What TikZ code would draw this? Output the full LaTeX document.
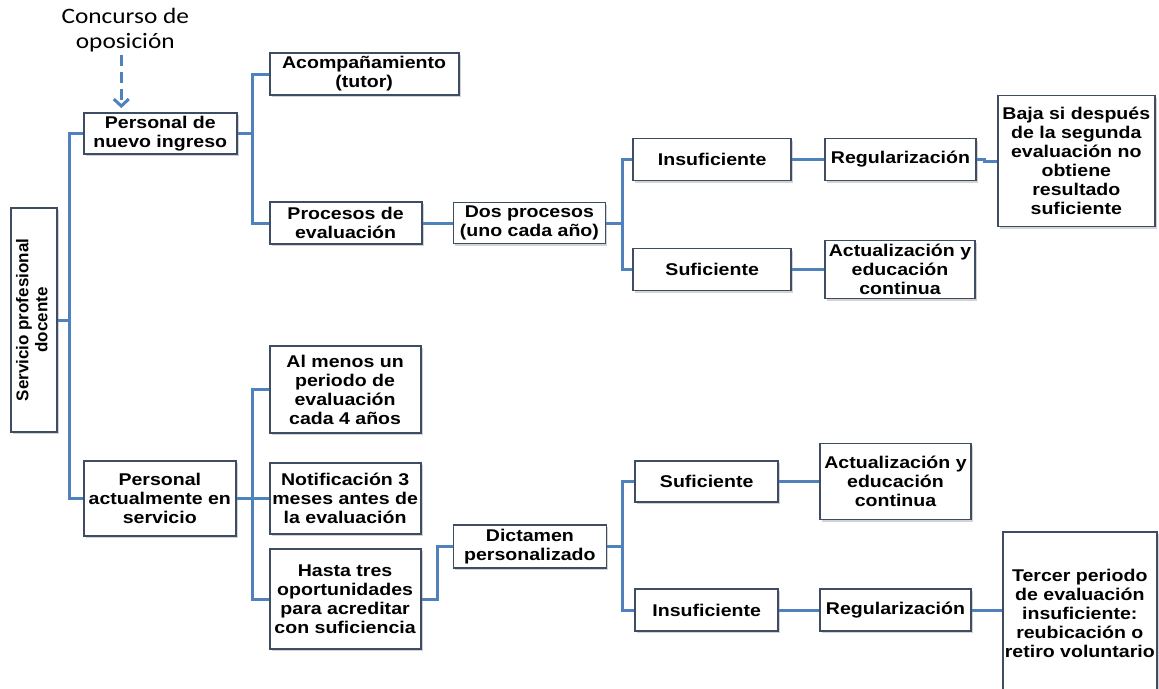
\documentclass[tikz,border=0pt]{standalone}
\usepackage{graphicx}
\usepackage{fontspec}
\setmainfont{Liberation Sans}
\newfontfamily\boxfont{Liberation Sans}[FakeStretch=1.15]
\newfontfamily\notefont{Carlito}[FakeStretch=1.15]
\usepackage{tikz}
\usetikzlibrary{arrows.meta, positioning, shadows}
\definecolor{linkblue}{HTML}{4F81BD}
\definecolor{boxline}{HTML}{3E4D63}

\begin{document}
\begin{tikzpicture}[x=1pt, y=1pt,
  box/.style={rectangle, draw=boxline, line width=1.8pt, fill=white,
              drop shadow={shadow xshift=2pt, shadow yshift=-2pt, opacity=0.35},
              align=center, inner sep=1pt,
              font=\boxfont\bfseries\fontsize{17}{19}\selectfont},
  rootbox/.style={box, font=\bfseries\fontsize{17}{19}\selectfont},
  note/.style={align=center, inner sep=0pt, font=\notefont\fontsize{22}{25}\selectfont},
  link/.style={draw=linkblue, line width=3pt},
  dasharrow/.style={-{Straight Barb[length=7pt, width=15pt]}, draw=linkblue,
                    line width=3pt, dash pattern=on 11pt off 6pt},
]
  \useasboundingbox (0,0) rectangle (1159,-688);

  % root
  \node[rootbox, minimum width=46pt, minimum height=224pt] (root) at (34,-320)
    {\rotatebox{90}{\begin{tabular}{@{}c@{}}Servicio profesional\\docente\end{tabular}}};

  % upper branch: new staff
  \node[box, minimum width=153pt, minimum height=41pt, right=25pt of root, yshift=186.5pt] (nuevo) {Personal de\\nuevo ingreso};
  \node[note, above=60pt of nuevo.north, xshift=-35pt] (concurso) {Concurso de\\oposición};
  \node[box, minimum width=189pt, minimum height=42pt, right=31pt of nuevo, yshift=59.5pt] (tutor) {Acompañamiento\\(tutor)};
  \node[box, minimum width=152pt, minimum height=42pt, right=31pt of nuevo, yshift=-89.5pt] (proc) {Procesos de\\evaluación};
  \node[box, minimum width=152pt, minimum height=41pt, right=30pt of proc] (dos) {Dos procesos\\(uno cada año)};
  \node[box, minimum width=158pt, minimum height=42pt, right=26pt of dos, yshift=63.5pt] (insA) {Insuficiente};
  \node[box, minimum width=158pt, minimum height=42pt, right=26pt of dos, yshift=-46.5pt] (sufA) {Suficiente};
  \node[box, minimum width=151pt, minimum height=42pt, right=32pt of insA] (regA) {Regularización};
  \node[box, minimum width=157pt, minimum height=131pt, right=20pt of regA, yshift=-1.5pt] (bajaA) {Baja si después\\de la segunda\\evaluación no\\obtiene\\resultado\\suficiente};
  \node[box, minimum width=150pt, minimum height=58pt, right=32pt of sufA] (actA) {Actualización y\\educación\\continua};

  % lower branch: staff in service
  \node[box, minimum width=152pt, minimum height=75pt, right=25pt of root, yshift=-178.5pt] (act) {Personal\\actualmente en\\servicio};
  \node[box, minimum width=151pt, minimum height=87pt, right=32pt of act, yshift=109pt] (menos) {Al menos un\\periodo de\\evaluación\\cada 4 años};
  \node[box, minimum width=151pt, minimum height=71pt, right=32pt of act] (notif) {Notificación 3\\meses antes de\\la evaluación};
  \node[box, minimum width=151pt, minimum height=100pt, right=32pt of act, yshift=-100.5pt] (hasta) {Hasta tres\\oportunidades\\para acreditar\\con suficiencia};
  \node[box, minimum width=153pt, minimum height=43pt, right=31pt of hasta, yshift=52.5pt] (dict) {Dictamen\\personalizado};
  \node[box, minimum width=143pt, minimum height=41pt, right=27pt of dict, yshift=65pt] (sufB) {Suficiente};
  \node[box, minimum width=143pt, minimum height=42pt, right=27pt of dict, yshift=-63.5pt] (insB) {Insuficiente};
  \node[box, minimum width=151pt, minimum height=76pt, right=40pt of sufB] (actB) {Actualización y\\educación\\continua};
  \node[box, minimum width=151pt, minimum height=42pt, right=40pt of insB] (regB) {Regularización};
  \node[box, minimum width=154pt, minimum height=162pt, right=30pt of regB, yshift=-3pt] (tercer) {Tercer periodo\\de evaluación\\insuficiente:\\reubicación o\\retiro voluntario};

  % connectors
  \draw[dasharrow, shorten <=3pt, shorten >=4pt] ([xshift=-4pt]concurso.south) -- ([xshift=-4pt]concurso.south |- nuevo.north);
  \draw[link] (root.east) -- ++(12,0) |- (nuevo.west) (root.east) ++(12,0) |- (act.west);
  \draw[link] (nuevo.east) -- ++(15,0) |- (tutor.west) (nuevo.east) ++(15,0) |- (proc.west);
  \draw[link] (proc) -- (dos);
  \draw[link] (dos.east) -- ++(16,0) |- (insA.west) (dos.east) ++(16,0) |- (sufA.west);
  \draw[link] (insA) -- (regA);
  \draw[link] (regA.east) -- ++(8,0) |- (bajaA.west);
  \draw[link] (sufA) -- (actA);
  \draw[link] (act.east) -- ++(16,0) |- (menos.west) (act.east) ++(16,0) |- (hasta.west);
  \draw[link] (act) -- (notif);
  \draw[link] (hasta.east) -- ++(16,0) |- (dict.west);
  \draw[link] (dict.east) -- ++(15,0) |- (sufB.west) (dict.east) ++(15,0) |- (insB.west);
  \draw[link] (sufB) -- (actB);
  \draw[link] (insB) -- (regB);
  \draw[link] (regB.east) -- (regB.east -| tercer.west);
\end{tikzpicture}
\end{document}
